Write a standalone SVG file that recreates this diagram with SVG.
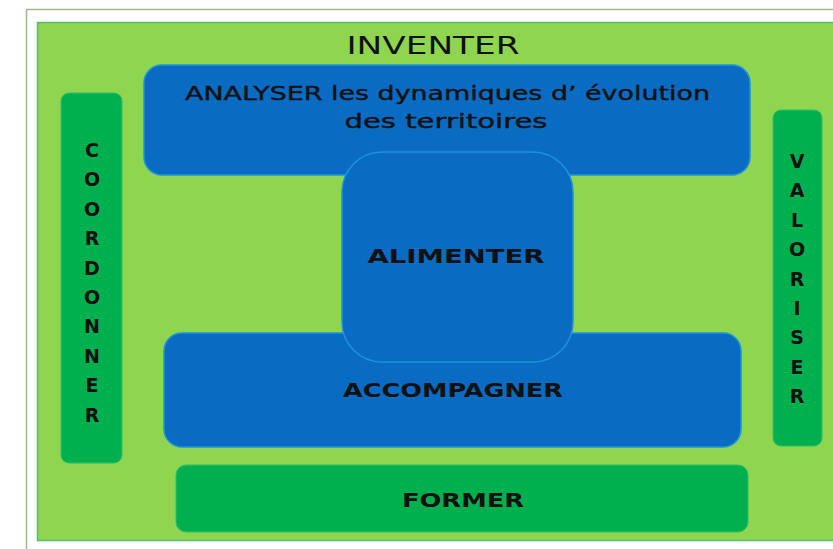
<svg xmlns="http://www.w3.org/2000/svg" width="833" height="549" viewBox="0 0 833 549">
<style>
.t{font-family:"DejaVu Sans","Liberation Sans",sans-serif;fill:#111;}
.b{font-weight:bold;font-size:19px;}
.blue{fill:#0a6bc2;stroke:#1e93dc;stroke-width:1.5;}
.dg{fill:#00b04f;stroke:#2cc06a;stroke-width:1;}
.v{font-family:"DejaVu Sans","Liberation Sans",sans-serif;fill:#111;font-weight:bold;font-size:19px;text-anchor:middle;}
</style>
<rect x="0" y="0" width="833" height="549" fill="#ffffff"/>
<path d="M26.5 549 V9.5 H833" fill="none" stroke="#9fb98c" stroke-width="1.5"/>
<rect id="inventer" x="37.5" y="22.5" width="800" height="518" fill="#8fd550" stroke="#52bf6a" stroke-width="1.5"/>
<text class="t" x="433" y="54" font-size="25" text-anchor="middle" textLength="173" lengthAdjust="spacingAndGlyphs">INVENTER</text>
<g id="coordonner">
<rect class="dg" x="61" y="93" width="61" height="370" rx="8"/>
<text class="v"><tspan x="92" y="157">C</tspan><tspan x="92" y="186">O</tspan><tspan x="92" y="216">O</tspan><tspan x="92" y="245">R</tspan><tspan x="92" y="275">D</tspan><tspan x="92" y="304">O</tspan><tspan x="92" y="333">N</tspan><tspan x="92" y="363">N</tspan><tspan x="92" y="392">E</tspan><tspan x="92" y="422">R</tspan></text>
</g>
<g id="valoriser">
<rect class="dg" x="773" y="110" width="49" height="336" rx="8"/>
<text class="v"><tspan x="797" y="168">V</tspan><tspan x="797" y="197">A</tspan><tspan x="797" y="227">L</tspan><tspan x="797" y="256">O</tspan><tspan x="797" y="286">R</tspan><tspan x="797" y="315">I</tspan><tspan x="797" y="344">S</tspan><tspan x="797" y="374">E</tspan><tspan x="797" y="403">R</tspan></text>
</g>
<g id="analyser">
<rect class="blue" x="144" y="65" width="606" height="110" rx="18"/>
<text class="t" x="185" y="100" font-size="20" stroke="#111" stroke-width="0.4" textLength="525" lengthAdjust="spacingAndGlyphs">ANALYSER les dynamiques d’ évolution</text>
<text class="t" x="446" y="128" font-size="20" stroke="#111" stroke-width="0.4" text-anchor="middle" textLength="203" lengthAdjust="spacingAndGlyphs">des territoires</text>
</g>
<g id="accompagner">
<rect class="blue" x="164" y="333" width="577" height="114" rx="18"/>
<text class="t b" x="453" y="397" text-anchor="middle" textLength="220" lengthAdjust="spacingAndGlyphs">ACCOMPAGNER</text>
</g>
<g id="alimenter">
<rect class="blue" x="342" y="152" width="231" height="210" rx="40" stroke="#29a0e6" stroke-width="2"/>
<text class="t b" x="456" y="263" text-anchor="middle" textLength="177" lengthAdjust="spacingAndGlyphs">ALIMENTER</text>
</g>
<g id="former">
<rect class="dg" x="176" y="465" width="572" height="67" rx="10"/>
<text class="t b" x="463" y="507" text-anchor="middle" textLength="122" lengthAdjust="spacingAndGlyphs">FORMER</text>
</g>
<g id="connectors"></g>
</svg>
